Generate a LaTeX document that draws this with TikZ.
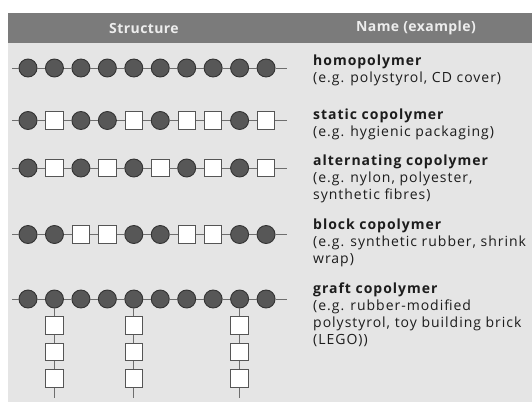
\documentclass[tikz,border=0pt]{standalone}
\usepackage{fontspec}
\setmainfont{Open Sans}
\newfontfamily\descfont[LetterSpace=7]{Open Sans}
\newfontfamily\headfont[LetterSpace=3]{Open Sans}
\definecolor{panelbg}{HTML}{E5E5E5}
\definecolor{headbg}{HTML}{7B7B7B}
\definecolor{headfg}{HTML}{EDEDED}
\definecolor{circfill}{HTML}{575757}
\definecolor{circedge}{HTML}{333333}
\definecolor{sqedge}{HTML}{555555}
\definecolor{bondcol}{HTML}{6E6E6E}
\definecolor{txt}{HTML}{1C1C1C}
\tikzset{
  monoC/.style={circle, draw=circedge, fill=circfill, line width=0.9pt,
    minimum size=18pt, inner sep=0pt},
  monoS/.style={rectangle, draw=sqedge, fill=white, line width=0.9pt,
    minimum size=17.5pt, inner sep=0pt},
  bond/.style={draw=bondcol, line width=0.9pt},
  headtext/.style={text=headfg, font=\headfont\fontsize{14}{16}\selectfont\bfseries},
  % anchored at the baseline of the last line
  desc/.style={anchor=base west, align=left, inner sep=0pt, text=txt,
    font=\descfont\fontsize{14}{17}\selectfont}
}
% one row of monomers: #1 row name, #2 y position, #3 list of C/S units
\newcommand\polyrow[3]{%
  \coordinate (#1-l) at (12,#2);
  \coordinate (#1-r) at (287,#2);
  \foreach \u [count=\i] in {#3} {
    \node[mono\u] (#1-\i) at ({28+26.45*(\i-1)},#2) {};
  }
  \draw[bond] (#1-l) -- (#1-1);
  \foreach \i [evaluate=\i as \j using int(\i+1)] in {1,...,9} {
    \draw[bond] (#1-\i) -- (#1-\j);
  }
  \draw[bond] (#1-10) -- (#1-r);
}
\begin{document}
\begin{tikzpicture}[x=1pt,y=-1pt]
\useasboundingbox (0,0) rectangle (532,402);
\fill[white] (0,0) rectangle (532,402);
\fill[panelbg] (8,13) rectangle (532,402);
\fill[headbg] (8,13) rectangle (532,43);
\node[headtext] (hs) at (144,28) {Structure};
\node[headtext] (hn) at (416,28) {Name (example)};

% chains
\polyrow{ra}{68}{C,C,C,C,C,C,C,C,C,C}
\polyrow{rb}{120.5}{C,S,C,C,S,C,S,S,C,S}
\polyrow{rc}{168}{C,S,C,S,C,S,C,S,C,S}
\polyrow{rd}{234.5}{C,C,S,S,C,C,S,S,C,C}
\polyrow{re}{299}{C,C,C,C,C,C,C,C,C,C}

% side chains of the graft copolymer
\foreach \k in {2,5,9} {
  \path (re-\k) ++(0,26.5) node[monoS] (g\k-1) {}
        ++(0,26.5) node[monoS] (g\k-2) {}
        ++(0,26.5) node[monoS] (g\k-3) {}
        ++(0,19.5) coordinate (g\k-end);
  \draw[bond] (re-\k) -- (g\k-1);
  \draw[bond] (g\k-1) -- (g\k-2);
  \draw[bond] (g\k-2) -- (g\k-3);
  \draw[bond] (g\k-3) -- (g\k-end);
}

% names
\node[desc] (ta) at (313,82) {\textbf{homopolymer}\\(e.g. polystyrol, CD cover)};
\node[desc] (tb) at (313,136) {\textbf{static copolymer}\\(e.g. hygienic packaging)};
\node[desc] (tc) at (313,199) {\textbf{alternating copolymer}\\(e.g. nylon, polyester,\\synthetic fibres)};
\node[desc] (td) at (313,263) {\textbf{block copolymer}\\(e.g. synthetic rubber, shrink\\wrap)};
\node[desc] (te) at (313,344) {\textbf{graft copolymer}\\(e.g. rubber-modified\\polystyrol, toy building brick\\(LEGO))};
\end{tikzpicture}
\end{document}
